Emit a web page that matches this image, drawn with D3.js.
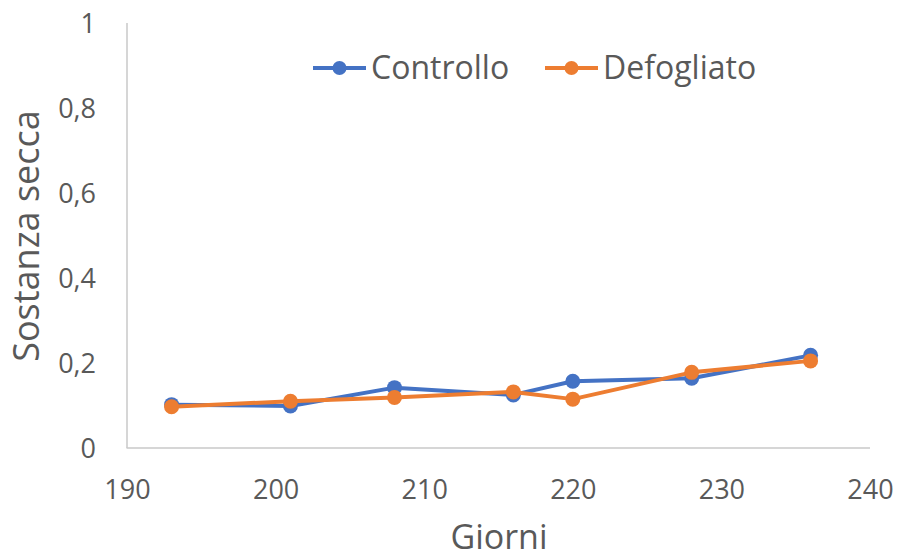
<!DOCTYPE html>
<html>
<head>
<meta charset="utf-8">
<script src="https://cdn.jsdelivr.net/npm/d3@7"></script>
<style>
  html, body { margin: 0; padding: 0; background: #ffffff; }
  svg { display: block; }
  text { font-family: "Open Sans", "Noto Sans", sans-serif; fill: #595959; }
</style>
</head>
<body>
<svg id="chart" width="901" height="560"></svg>
<script>
// Days of sampling and dry-matter values for each treatment
const giorni = [193, 201, 208, 216, 220, 228, 236];
const controllo = [0.102, 0.099, 0.142, 0.125, 0.157, 0.164, 0.218];
const defogliato = [0.097, 0.110, 0.119, 0.132, 0.115, 0.178, 0.205];
const xTicks = [190, 200, 210, 220, 230, 240];
const yTicks = [0, 0.2, 0.4, 0.6, 0.8, 1];
const seriesNames = ["Controllo", "Defogliato"];
const seriesColors = ["#4472C4", "#ED7D31"];

const svg = d3.select("#chart");

const x = d3.scaleLinear().domain([190, 240]).range([127, 870]);
const y = d3.scaleLinear().domain([0, 1]).range([448, 23]);

const fmt = d => d === 0 ? "0" : (d === 1 ? "1" : String(d).replace(".", ","));

// Axes
const xAxis = d3.axisBottom(x).tickValues(xTicks).tickSize(0).tickPadding(0).tickFormat(d => d);
const gx = svg.append("g").attr("transform", `translate(0,${y(0)})`).call(xAxis);
gx.select(".domain").attr("stroke", "#C9C9C9").attr("stroke-width", 1.5)
  .attr("d", `M${x(190) - 0.5},0H${x(240)}`);
gx.selectAll(".tick text")
  .attr("y", 51).attr("dy", null)
  .style("font-size", "27px").attr("fill", "#595959");

const yAxis = d3.axisLeft(y).tickValues(yTicks).tickSize(0).tickPadding(0).tickFormat(fmt);
const gy = svg.append("g").attr("transform", `translate(${x(190)},0)`).call(yAxis);
gy.select(".domain").attr("stroke", "#C9C9C9").attr("stroke-width", 1.5)
  .attr("d", `M0,${y(1)}V${y(0)}`);
gy.selectAll(".tick text")
  .attr("x", -31).attr("dy", "0.35em")
  .style("font-size", "27px").attr("fill", "#595959");

// Axis titles
svg.append("text")
  .attr("x", 499).attr("y", 549)
  .attr("text-anchor", "middle")
  .style("font-size", "34px")
  .text("Giorni");

svg.append("text")
  .attr("transform", `translate(39,236) rotate(-90)`)
  .attr("text-anchor", "middle")
  .style("font-size", "36px")
  .text("Sostanza secca");

// Series lines and markers
const line = d3.line().x(d => x(d[0])).y(d => y(d[1]));
[controllo, defogliato].forEach((vals, i) => {
  const pts = giorni.map((g, j) => [g, vals[j]]);
  const g = svg.append("g");
  g.append("path")
    .datum(pts)
    .attr("d", line)
    .attr("fill", "none")
    .attr("stroke", seriesColors[i])
    .attr("stroke-width", 4)
    .attr("stroke-linejoin", "round");
  g.selectAll("circle")
    .data(pts)
    .join("circle")
    .attr("cx", d => x(d[0]))
    .attr("cy", d => y(d[1]))
    .attr("r", 7.5)
    .attr("fill", seriesColors[i]);
});

// Legend
const legendItems = [
  { name: seriesNames[0], color: seriesColors[0], x0: 313 },
  { name: seriesNames[1], color: seriesColors[1], x0: 545 }
];
const lg = svg.append("g");
legendItems.forEach(it => {
  lg.append("line")
    .attr("x1", it.x0).attr("x2", it.x0 + 53)
    .attr("y1", 68).attr("y2", 68)
    .attr("stroke", it.color).attr("stroke-width", 4);
  lg.append("circle")
    .attr("cx", it.x0 + 26.5).attr("cy", 68).attr("r", 7)
    .attr("fill", it.color);
  lg.append("text")
    .attr("x", it.x0 + 58).attr("y", 79)
    .style("font-size", "32px")
    .text(it.name);
});
</script>
</body>
</html>
